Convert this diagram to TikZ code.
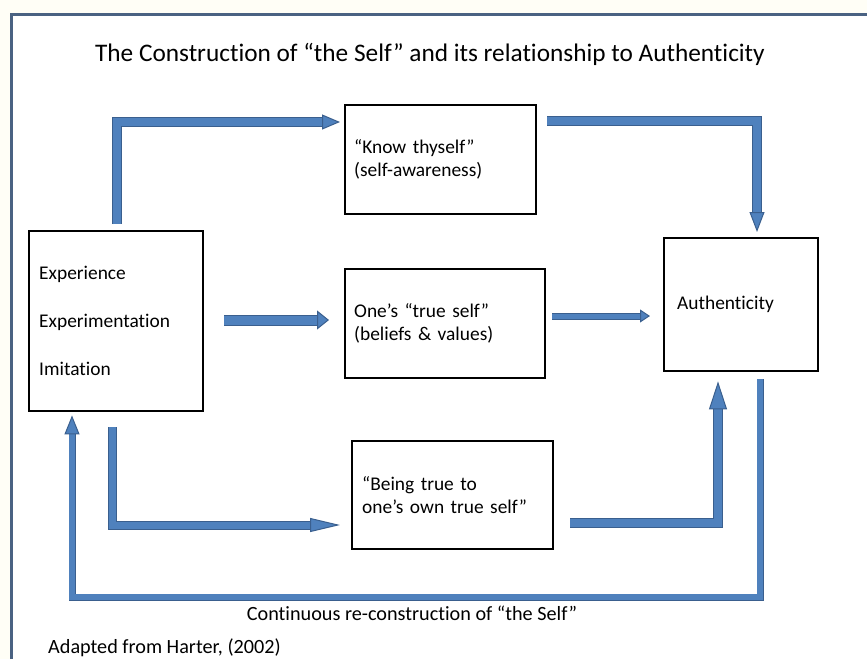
\documentclass[tikz,border=0pt]{standalone}
\usepackage{fontspec}
\setmainfont{Carlito}[Ligatures=CommonOff]
\usetikzlibrary{arrows.meta,calc}
\definecolor{arrfill}{HTML}{4F81BD}
\definecolor{arrdark}{HTML}{3A5F8E}
\definecolor{framec}{HTML}{4A6282}
\definecolor{creambg}{HTML}{FFFEF6}
\tikzset{
  box/.style={draw=black, line width=2.4pt, anchor=north west, align=left,
    inner xsep=9pt, inner ysep=0pt, font=\fontsize{19.4}{23}\selectfont},
  bigarr/.style n args={5}{line join=miter,
    preaction={draw=arrdark, line width=#2, shorten >=#5, arrows=-},
    draw=arrfill, line width=#1,
    -{Triangle[length=#3,width=#4,line width=1pt,color=arrdark,fill=arrfill]}},
  lbl/.style={font=\fontsize{20.2}{24}\selectfont, inner sep=0pt},
}
\begin{document}
\begin{tikzpicture}[x=1pt,y=-1pt]
\useasboundingbox (0,0) rectangle (867,659);
\fill[creambg] (0,0) rectangle (867,659);
\fill[white] (11,14) rectangle (867,659);
\draw[framec, line width=3pt] (11,659) -- (11,14) -- (867,14);

\node[font=\fontsize{25.3}{30}\selectfont, inner sep=0pt] (title) at (430,54)
  {The Construction of “the Self” and its relationship to Authenticity};

\node[box, text width=154pt, minimum height=180pt, inner xsep=10pt] (exp) at (28,230)
  {Experience\\[25pt]Experimentation\\[25pt]Imitation};
\node[box, text width=173pt, minimum height=109pt] (know) at (344,104)
  {“Know thyself”\\(self-awareness)};
\node[box, text width=182pt, minimum height=109pt] (true) at (344,268)
  {One’s “true self”\\(beliefs \& values)};
\node[box, text width=128pt, minimum height=133pt, inner xsep=13pt] (auth) at (663,237)
  {Authenticity};
\node[box, text width=181pt, minimum height=108pt, inner xsep=10pt] (being) at (351,440)
  {“Being true to\\one’s own true self”};

% arrows
\draw[bigarr={8pt}{10pt}{18pt}{15pt}{15pt}]
  ($(exp.north west)+(89,-6)$) |- ($(know.north west)+(-4,18)$);
\draw[bigarr={8pt}{10pt}{20pt}{15pt}{17pt}]
  ($(know.north east)+(10,17)$) -| ($(auth.north west)+(94,-5)$);
\draw[bigarr={9pt}{11pt}{12pt}{19pt}{9pt}]
  ($(exp.north east)+(20,90)$) -- ($(true.north west)+(-15,52)$);
\draw[bigarr={5pt}{7pt}{10pt}{13pt}{7pt}]
  ($(true.north east)+(6,48)$) -- ($(auth.north west)+(-13,79)$);
\draw[bigarr={7pt}{9pt}{30pt}{14pt}{27pt}]
  ($(exp.south west)+(84,15)$) |- ($(being.north west)+(-11,85)$);
\draw[bigarr={8pt}{10pt}{28pt}{18pt}{25pt}]
  ($(being.north east)+(16,83)$) -| ($(auth.south west)+(55,9)$);
\draw[bigarr={6pt}{7pt}{19pt}{15pt}{16pt}]
  ($(auth.south west)+(97,7)$) |- ($(exp.south west)+(44,185)$) -- ($(exp.south west)+(44,3)$);

\node[lbl] (cont) at (412,613) {Continuous re-construction of “the Self”};
\node[lbl, anchor=west] (adapt) at (48,648) {Adapted from Harter, (2002)};
\end{tikzpicture}
\end{document}
